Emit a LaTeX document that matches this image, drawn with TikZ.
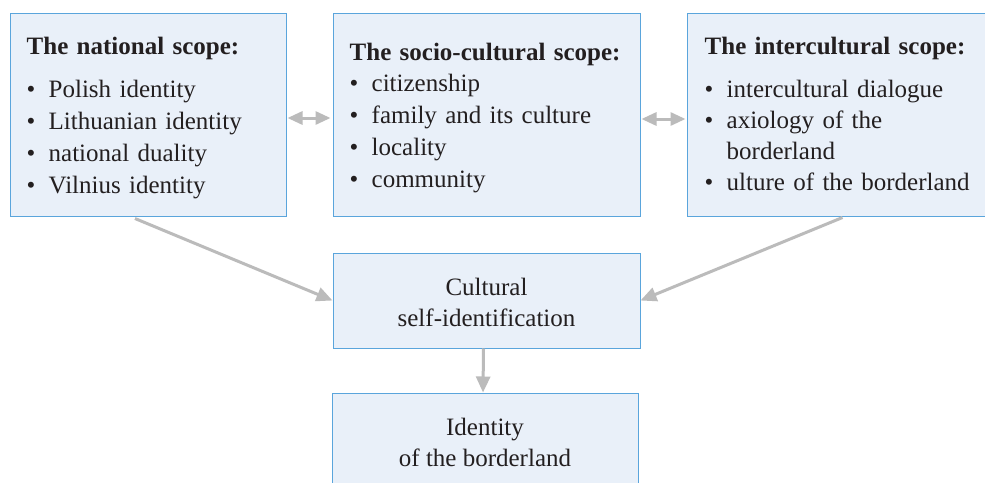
\documentclass[tikz,border=0pt]{standalone}
\usepackage{fontspec}
\setmainfont{Liberation Serif}
\usetikzlibrary{arrows.meta}
\definecolor{boxfill}{HTML}{E9F0F9}
\definecolor{boxline}{HTML}{5AA5DC}
\definecolor{linkgray}{HTML}{BBBBBB}
\definecolor{ink}{HTML}{231F20}
\newcommand{\itm}{\makebox[22pt][l]{\textbullet}}
\tikzset{
  scopebox/.style={draw=boxline, fill=boxfill, line width=1pt, inner sep=0pt,
    minimum height=203pt},
  scopetext/.style={anchor=west, inner sep=0pt, align=left, text=ink,
    font=\fontsize{25}{32}\selectfont},
  resultbox/.style={draw=boxline, fill=boxfill, line width=1pt, align=center,
    text=ink, font=\fontsize{25}{31}\selectfont},
  link/.style={draw=linkgray, line width=3pt, -{Triangle[length=16pt,width=14pt]}},
  twolink/.style={draw=linkgray, line width=3pt,
    {Triangle[length=15pt,width=13pt]}-{Triangle[length=15pt,width=13pt]}}
}
\begin{document}
\begin{tikzpicture}[x=1pt,y=-1pt]
\clip (0,0) rectangle (985,482);
\fill[white] (0,0) rectangle (985,482);
% Scopes
\node[scopebox, minimum width=276pt] (national) at (148,114.5) {};
\node[scopebox, minimum width=307pt] (social) at (486.5,114.5) {};
\node[scopebox, minimum width=313pt] (inter) at (843.5,114.5) {};
\node[scopetext, text width=242pt] (nationaltext) at ([xshift=17pt,yshift=-4pt]national.west)
  {\textbf{The national scope:}\\[11pt]
   \itm Polish identity\\
   \itm Lithuanian identity\\
   \itm national duality\\
   \itm Vilnius identity};
\node[scopetext, text width=273pt] (socialtext) at ([xshift=17pt,yshift=-3.5pt]social.west)
  {\textbf{The socio-cultural scope:}\\[-1pt]
   \itm citizenship\\
   \itm family and its culture\\
   \itm locality\\
   \itm community};
\node[scopetext, text width=279pt] (intertext) at ([xshift=18pt,yshift=0.5pt]inter.west)
  {\textbf{The intercultural scope:}\\[11pt]
   \itm intercultural dialogue\\[-1pt]
   \itm axiology of the\\[-1pt]
   \hspace*{22pt}borderland\\[-1pt]
   \itm ulture of the borderland};
% Results
\node[resultbox, minimum width=307pt, minimum height=95pt] (self) at (486.5,300.5) {};
\node[scopetext, anchor=center, align=center, font=\fontsize{25}{31}\selectfont]
  (selftext) at ([yshift=-2pt]self.center) {Cultural\\self-identification};
\node[resultbox, minimum width=306pt, minimum height=99pt] (border) at (485,442.5)
  {Identity\\of the borderland};
% Links
\draw[twolink] ([yshift=-3.5pt,xshift=1pt]national.east) -- ([yshift=-3.5pt,xshift=-2pt]social.west);
\draw[twolink] ([yshift=-4.5pt,xshift=1pt]social.east) -- ([yshift=-4.5pt,xshift=-1pt]inter.west);
\draw[link] ([xshift=-13pt,yshift=-2pt]national.south) -- (self.west);
\draw[link] ([xshift=-1pt,yshift=-1pt]inter.south) -- (self.east);
\draw[link] ([xshift=-3pt]self.south) -- ([xshift=-2pt]border.north);
\end{tikzpicture}
\end{document}
